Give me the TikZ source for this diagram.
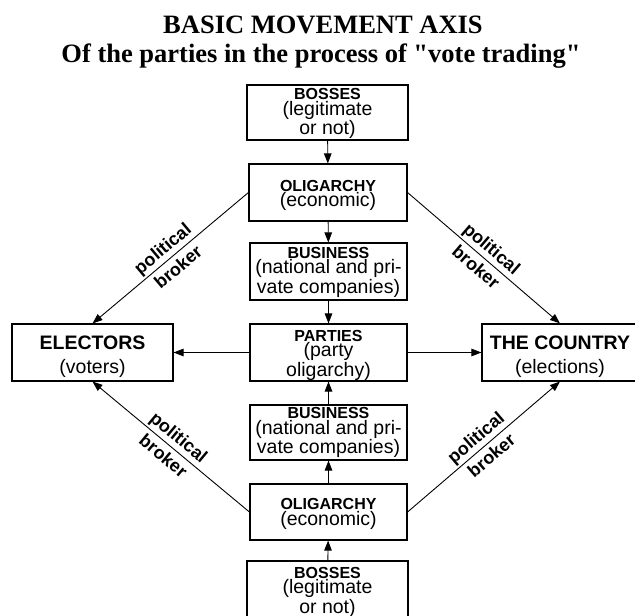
\documentclass[tikz,border=0pt]{standalone}
\usepackage{fontspec}
\setmainfont{Liberation Sans}
\newfontfamily\titlefont{Liberation Serif}
\usetikzlibrary{arrows.meta}
\newcommand{\cbx}[2]{{\bfseries\fontsize{16}{17}\selectfont #1}\\[-1pt]#2}
\newcommand{\sbx}[2]{{\bfseries #1}\\#2}
\begin{document}
\begin{tikzpicture}[x=1pt,y=-1pt,
  cbox/.style={draw, line width=1.1pt, minimum width=157pt, minimum height=56pt, inner sep=0pt, align=center, font=\fontsize{19.5}{16.5}\selectfont, text depth=4pt},
  sbox/.style={draw, line width=1.1pt, minimum width=161pt, minimum height=57pt, inner sep=0pt, align=center, font=\fontsize{19.5}{24}\selectfont, text height=45pt, text depth=4pt},
  arr/.style={line width=0.9pt, -{Triangle[length=10pt,width=7.5pt]}},
  lbl/.style={font=\bfseries\fontsize{18}{18}\selectfont, inner sep=2pt},
  ttl/.style={font=\titlefont\bfseries\fontsize{26.5}{29}\selectfont, anchor=base, inner sep=0pt}]
\useasboundingbox (0,0) rectangle (635,616);
\node[ttl] (t1) at (323,33) {BASIC MOVEMENT AXIS};
\node[ttl] (t2) at (321,62) {Of the parties in the process of "vote trading"};
\node[cbox, text height=48pt, minimum width=161pt, minimum height=55pt] (b1) at (327.5,112.5) {\cbx{BOSSES}{(legitimate\\or not)}};
\node[cbox, text height=32pt, minimum width=158pt, minimum height=57pt] (o1) at (328,192.5) {\cbx{OLIGARCHY}{(economic)}};
\node[cbox, text height=47pt, minimum height=57pt] (u1) at (328.5,271.5) {\cbx{BUSINESS}{(national and pri-\\vate companies)}};
\node[cbox, text height=51pt, minimum height=57pt] (p) at (328.5,352.5) {\cbx{PARTIES}{(party\\oligarchy)}};
\node[cbox, text height=46pt, minimum height=55pt] (u2) at (328.5,432.5) {\cbx{BUSINESS}{(national and pri-\\vate companies)}};
\node[cbox, text height=30pt, minimum height=56pt] (o2) at (328.5,512) {\cbx{OLIGARCHY}{(economic)}};
\node[cbox, text height=52pt, minimum width=161pt, minimum height=53pt] (b2) at (327.5,589) {\cbx{BOSSES}{(legitimate\\or not)}};
\node[sbox] (el) at (92.5,352.5) {\sbx{ELECTORS}{(voters)}};
\node[sbox, minimum width=156pt] (co) at (560,352.5) {\sbx{THE COUNTRY}{(elections)}};
\draw[arr] (b1) -- (o1);
\draw[arr] (o1) -- (u1);
\draw[arr] (u1) -- (p);
\draw[arr] (u2) -- (p);
\draw[arr] (o2) -- (u2);
\draw[arr] (b2) -- (o2);
\draw[arr] (p) -- (el);
\draw[arr] (p) -- (co);
\draw[arr] (o1.west) -- node[lbl, sloped, above]{political} node[lbl, sloped, below=2.5pt]{broker} (el.north);
\draw[arr] (o1.east) -- node[lbl, sloped, above]{political} node[lbl, sloped, below=2.5pt]{broker} (co.north);
\draw[arr] (o2.west) -- node[lbl, sloped, above]{political} node[lbl, sloped, below=2.5pt]{broker} (el.south);
\draw[arr] (o2.east) -- node[lbl, sloped, above]{political} node[lbl, sloped, below=2.5pt]{broker} (co.south);
\end{tikzpicture}
\end{document}
